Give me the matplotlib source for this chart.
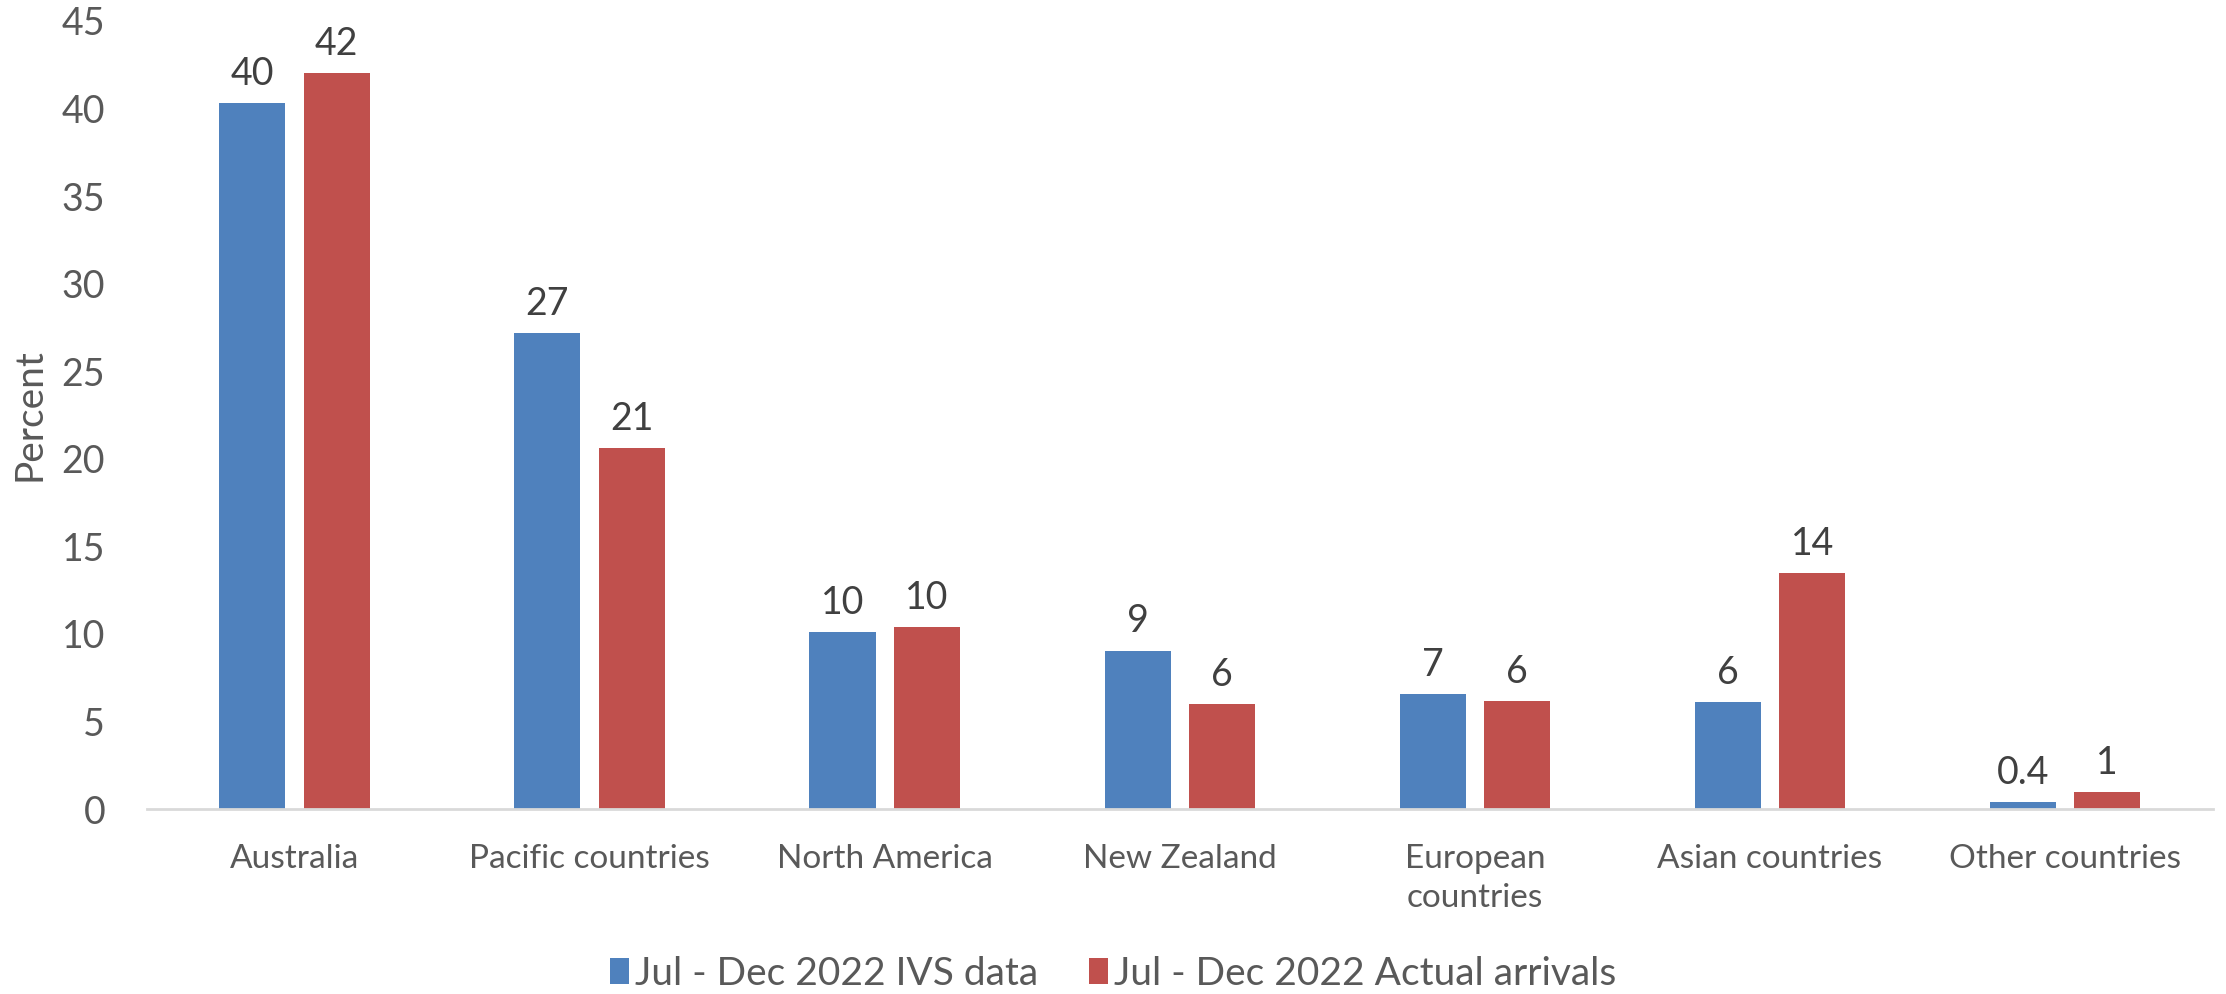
import numpy as np
import matplotlib.pyplot as plt

# share of visitors by country of residence, Jul - Dec 2022
regions = ['Australia', 'Pacific countries', 'North America', 'New Zealand',
           'European\ncountries', 'Asian countries', 'Other countries']
ivs_data = [40.3, 27.2, 10.1, 9.05, 6.55, 6.1, 0.38]
actual_arrivals = [42.0, 20.6, 10.4, 6.0, 6.17, 13.5, 0.97]
series_names = ['Jul - Dec 2022 IVS data', 'Jul - Dec 2022 Actual arrivals']

blue = '#4F81BD'
red = '#C0504D'
grey = '#595959'

plt.rcParams['font.family'] = ['Lato', 'DejaVu Sans']


def fmt(v):
    # whole numbers, except values that would round to zero
    if round(v) == 0:
        return '%.1f' % v
    return '%d' % round(v)


fig = plt.figure(figsize=(22.26, 9.94), dpi=100)
ax = fig.add_axes([0.066, 0.186, 0.928, 0.793])

x = np.arange(len(regions))
w = 0.224
off = w / 2 + 0.031
b1 = ax.bar(x - off, ivs_data, w, color=blue, label=series_names[0], zorder=2)
b2 = ax.bar(x + off, actual_arrivals, w, color=red, label=series_names[1], zorder=2)

for bars, vals in ((b1, ivs_data), (b2, actual_arrivals)):
    for rect, v in zip(bars, vals):
        ax.annotate(fmt(v), (rect.get_x() + rect.get_width() / 2, v),
                    xytext=(0, 8), textcoords='offset points',
                    ha='center', va='bottom', fontsize=27, color='#404040')

ax.set_xlim(-0.5, len(regions) - 0.5)
ax.set_ylim(0, 45)
ax.set_yticks(np.arange(0, 46, 5))
ax.set_xticks(x)
ax.set_xticklabels(regions, fontsize=24, color=grey, linespacing=1.4)
ax.tick_params(axis='y', labelsize=27, labelcolor=grey, length=0, pad=30)
ax.tick_params(axis='x', length=0, pad=25)

for s in ('top', 'right', 'left'):
    ax.spines[s].set_visible(False)
ax.spines['bottom'].set_color('#D9D9D9')
ax.spines['bottom'].set_linewidth(2)

ax.set_ylabel('Percent', fontsize=28, color=grey, labelpad=10)

leg = fig.legend(loc='center', bbox_to_anchor=(0.5, 0.02), ncol=2, frameon=False,
                 fontsize=28, handlelength=0.5, handleheight=0.65,
                 handletextpad=0.15, columnspacing=1.3)
for t in leg.get_texts():
    t.set_color(grey)

fig.savefig('out.png', dpi=100)
